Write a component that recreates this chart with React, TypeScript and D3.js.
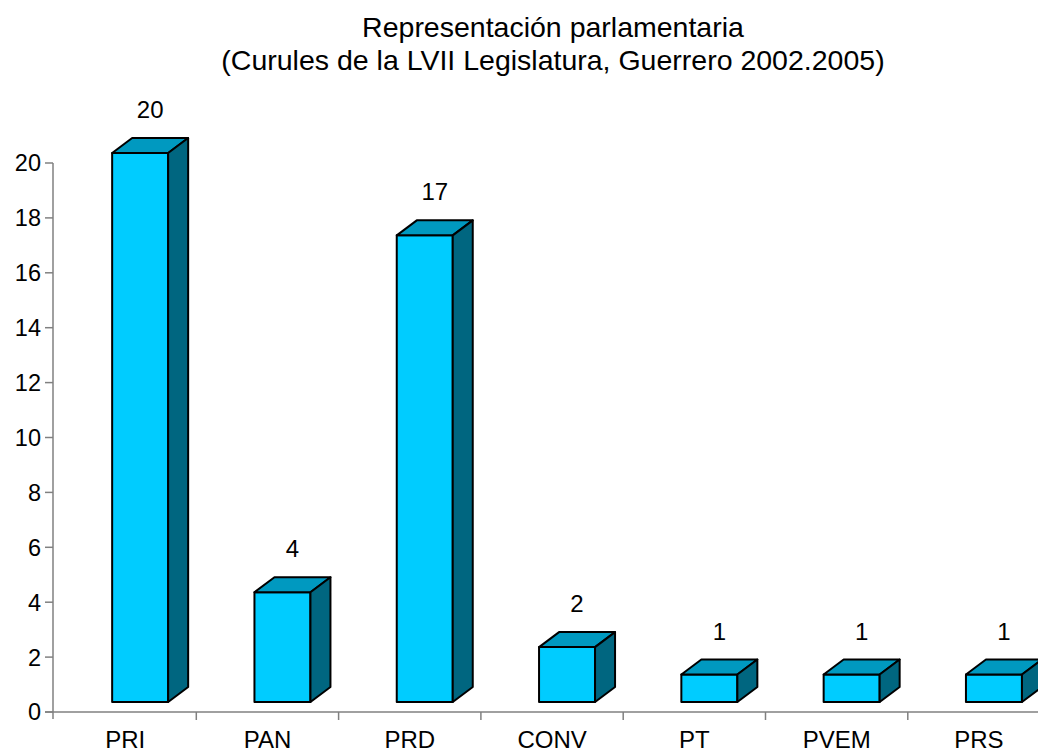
import React from "react";
import * as d3 from "d3";

const categories = ["PRI", "PAN", "PRD", "CONV", "PT", "PVEM", "PRS"];
const seats = [20, 4, 17, 2, 1, 1, 1];
const yTicks = [0, 2, 4, 6, 8, 10, 12, 14, 16, 18, 20];
const titleLines = [
  "Representación parlamentaria",
  "(Curules de la LVII Legislatura, Guerrero 2002.2005)",
];

const W = 1038;
const H = 752;
const FONT = "'Liberation Sans', Arial, sans-serif";

export default function App() {
  const x = d3.scaleBand<string>().domain(categories).range([54, 54 + 7 * 142.3]).padding(0);
  const y = d3.scaleLinear().domain([0, 20]).range([712, 163]);

  const frontShift = -10; // floor lift of the 3D bars
  const frontOffsetX = 15; // bars sit right of band centre
  const barW = 56;
  const dx = 20;
  const dy = 15;

  const axisX0 = 53;
  const axisY0 = y(0);

  return (
    <svg
      width={W}
      height={H}
      style={{ position: "absolute", left: 0, top: 0, background: "#fff" }}
      fontFamily={FONT}
    >
      {/* Title */}
      {titleLines.map((t, i) => (
        <text key={i} x={553} y={37 + i * 33} textAnchor="middle" fontSize={28.5} fill="#000">
          {t}
        </text>
      ))}

      {/* Y axis */}
      <line x1={axisX0} x2={axisX0} y1={y(20)} y2={axisY0 + 7} stroke="#808080" strokeWidth={1.5} />
      {yTicks.map((t) => (
        <g key={t}>
          <line x1={axisX0 - 8} x2={axisX0} y1={y(t)} y2={y(t)} stroke="#808080" strokeWidth={1.5} />
          <text x={41} y={y(t)} dy="0.36em" textAnchor="end" fontSize={23.5} fill="#000">
            {t}
          </text>
        </g>
      ))}

      {/* X axis */}
      <line x1={axisX0 - 8} x2={W + 20} y1={axisY0} y2={axisY0} stroke="#808080" strokeWidth={1.5} />
      {categories.map((c, i) =>
        i === 0 ? null : (
          <line
            key={"t" + c}
            x1={x(c)!}
            x2={x(c)!}
            y1={axisY0}
            y2={axisY0 + 8}
            stroke="#808080"
            strokeWidth={1.5}
          />
        )
      )}
      {categories.map((c) => (
        <text
          key={"l" + c}
          x={x(c)! + x.bandwidth() / 2}
          y={748}
          textAnchor="middle"
          fontSize={24}
          fill="#000"
        >
          {c}
        </text>
      ))}

      {/* Bars */}
      {categories.map((c, i) => {
        const v = seats[i];
        const cx = x(c)! + x.bandwidth() / 2 + frontOffsetX;
        const x0 = cx - barW / 2;
        const x1 = cx + barW / 2;
        const yTop = y(v) + frontShift;
        const yBot = y(0) + frontShift;
        const top = `M${x0},${yTop} L${x0 + dx},${yTop - dy} L${x1 + dx},${yTop - dy} L${x1},${yTop} Z`;
        const side = `M${x1},${yTop} L${x1 + dx},${yTop - dy} L${x1 + dx},${yBot - dy} L${x1},${yBot} Z`;
        return (
          <g key={c} stroke="#000" strokeWidth={2} strokeLinejoin="round">
            <rect x={x0} y={yTop} width={barW} height={yBot - yTop} fill="#00CCFF" />
            <path d={top} fill="#0099C0" />
            <path d={side} fill="#006680" />
            <text
              x={cx + dx / 2}
              y={yTop - dy - 20}
              textAnchor="middle"
              fontSize={24}
              fill="#000"
              stroke="none"
            >
              {v}
            </text>
          </g>
        );
      })}
    </svg>
  );
}
